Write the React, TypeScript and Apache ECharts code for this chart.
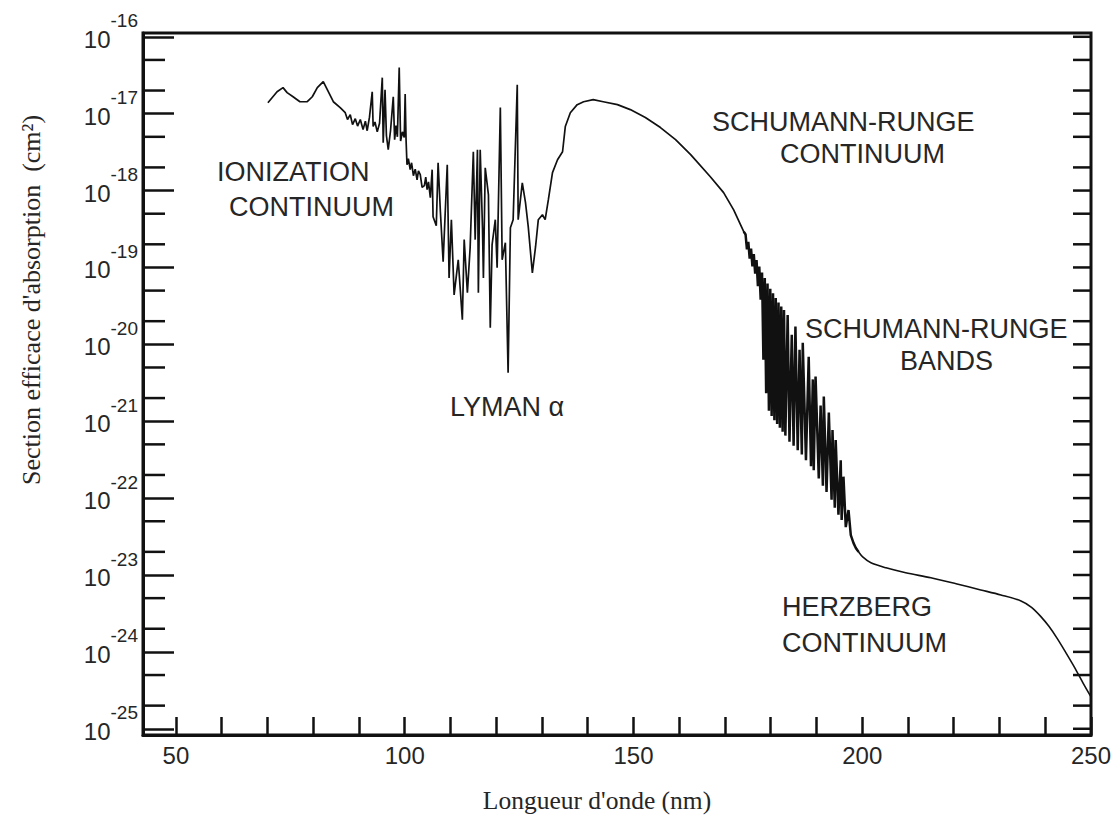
import React, { useEffect, useRef } from "react";
import * as echarts from "echarts";

// Wavelength (nm) / absorption cross-section (cm^2)
const ionizationContinuum: [number, number][] = [
  [70.1, 1.39e-17], [72.1, 1.93e-17], [73.4, 2.18e-17], [74.3, 1.88e-17], [75.6, 1.66e-17],
  [77.1, 1.43e-17], [78.7, 1.43e-17], [79.8, 1.66e-17], [80.9, 2.18e-17], [82.2, 2.61e-17],
  [83.3, 1.93e-17], [84.4, 1.43e-17], [85.9, 1.2e-17], [87.0, 1.03e-17], [87.5, 8.4e-18],
  [88.1, 9.7e-18], [88.6, 7.2e-18], [89.2, 8.6e-18], [89.7, 6.9e-18], [90.3, 8.4e-18],
  [90.9, 6.2e-18], [91.4, 8.0e-18], [91.8, 6.0e-18], [92.3, 9.0e-18], [92.9, 1.93e-17],
  [93.1, 6.8e-18], [93.5, 7.8e-18], [94.0, 5.8e-18], [94.5, 7.5e-18], [95.1, 2.94e-17],
  [95.3, 4.2e-18], [95.7, 2.05e-17], [96.0, 5.2e-18], [96.4, 3.4e-18], [96.9, 6.0e-18],
  [97.5, 1.66e-17], [97.8, 4.6e-18], [98.1, 7.0e-18], [98.4, 5.0e-18], [98.8, 3.97e-17],
  [99.1, 4.4e-18], [99.5, 5.8e-18], [99.9, 4.9e-18], [100.1, 1.8e-17], [100.3, 4.5e-18],
  [100.5, 2.17e-18],
];

const lymanAlphaRegion: [number, number][] = [
  [100.8, 2.6e-18], [101.2, 1.87e-18], [101.5, 2.3e-18], [101.9, 1.56e-18], [102.3, 1.9e-18],
  [102.7, 1.38e-18], [103.0, 1.8e-18], [103.4, 1.61e-18], [103.8, 1.1e-18], [104.3, 1.16e-18],
  [104.6, 1.5e-18], [104.9, 1.03e-18], [105.2, 1.3e-18], [105.6, 8.1e-19], [106.0, 1.87e-18],
  [106.2, 4.57e-19], [106.9, 3.49e-19], [107.3, 2.3e-18], [107.8, 5.3e-19], [108.4, 1.19e-19],
  [109.3, 2.17e-18], [109.7, 7.3e-20], [110.2, 4.18e-19], [110.8, 4.4e-20], [111.7, 1.26e-19],
  [112.6, 2.09e-20], [113.0, 2.3e-19], [113.7, 4.7e-20], [114.3, 1.81e-19], [115.0, 3.2e-18],
  [115.4, 2.3e-19], [115.9, 3.4e-18], [116.1, 4.7e-20], [116.5, 3.4e-18], [117.0, 3.29e-19],
  [117.2, 7.3e-20], [117.6, 1.98e-18], [118.3, 8.8e-19], [118.7, 1.64e-20], [119.1, 1.98e-19],
  [119.8, 4.18e-19], [120.2, 9.9e-20], [120.9, 1.2e-17], [121.3, 1.26e-19], [122.0, 2.1e-19],
  [122.6, 4.27e-21], [123.1, 3.29e-19], [123.7, 4.18e-19], [124.6, 2.38e-17], [124.8, 4.18e-19],
  [125.7, 1.26e-18], [126.4, 6.95e-19], [127.0, 3.39e-19], [127.9, 8.5e-20], [128.6, 1.86e-19],
  [129.2, 4.18e-19], [130.1, 4.85e-19], [130.7, 4.18e-19], [131.4, 7.6e-19], [132.3, 1.71e-18],
  [133.4, 2.52e-18], [134.5, 3.2e-18],
];

const schumannRungeContinuum: [number, number][] = [
  [135.1, 6.8e-18], [136.2, 1.03e-17], [137.7, 1.31e-17], [139.1, 1.43e-17], [141.2, 1.52e-17],
  [143.4, 1.43e-17], [146.5, 1.31e-17], [149.3, 1.13e-17], [152.6, 8.9e-18], [155.9, 6.6e-18],
  [159.2, 4.6e-18], [162.5, 2.93e-18], [166.8, 1.51e-18], [169.7, 9.4e-19], [171.9, 5.6e-19],
  [174.1, 2.92e-19],
];

const schumannRungeBands: [number, number][] = [
  [174.5, 2.69e-19], [174.8, 1.72e-19], [175.1, 2.16e-19], [175.4, 1.3e-19], [175.7, 1.76e-19],
  [176.0, 1.03e-19], [176.3, 1.49e-19], [176.6, 8.3e-20], [176.9, 1.25e-19], [177.2, 5.7e-20],
  [177.5, 1.03e-19], [177.8, 3.8e-20], [178.1, 8.6e-20], [178.4, 6.3e-21], [178.7, 7.3e-20],
  [179.0, 2.32e-21], [179.3, 6.2e-20], [179.6, 1.37e-21], [179.9, 5.3e-20], [180.2, 1.17e-21],
  [180.5, 4.6e-20], [180.8, 1.03e-21], [181.1, 4.0e-20], [181.4, 9.2e-22], [181.7, 3.5e-20],
  [182.0, 8.2e-22], [182.3, 3.1e-20], [182.6, 7.3e-22], [182.9, 2.8e-20], [183.2, 6.5e-22],
  [183.7, 2.4e-20], [184.1, 5.4e-22], [184.6, 1.33e-20], [185.0, 4.8e-22], [185.4, 1.7e-20],
  [185.9, 4.2e-22], [186.3, 8.5e-21], [186.8, 3.7e-22], [187.0, 1.05e-20], [187.7, 3.1e-22],
  [188.3, 6.9e-21], [188.8, 2.6e-22], [189.2, 3.5e-21], [189.4, 2.3e-22], [189.8, 3.8e-21],
  [190.5, 1.8e-22], [190.9, 1.6e-21], [191.4, 1.45e-22], [191.6, 2.1e-21], [192.2, 1.2e-22],
  [192.7, 1.3e-21], [193.3, 9.5e-23], [193.5, 7.7e-22], [194.0, 7.5e-23], [194.2, 5.7e-22],
  [194.8, 6.1e-23], [195.3, 3.1e-22], [195.5, 5.2e-23], [195.9, 1.9e-22], [196.4, 4.2e-23],
  [197.0, 7.0e-23], [197.5, 3.3e-23], [198.1, 2.6e-23], [198.6, 2.25e-23],
];

const herzbergContinuum: [number, number][] = [
  [199.2, 2.0e-23], [200.1, 1.72e-23], [201.9, 1.44e-23], [205.2, 1.24e-23], [209.5, 1.07e-23],
  [215.0, 9.2e-24], [220.5, 7.7e-24], [225.9, 6.4e-24], [230.3, 5.5e-24], [234.7, 4.6e-24],
  [237.0, 3.8e-24], [239.0, 2.9e-24], [240.8, 2.15e-24], [242.6, 1.5e-24], [244.5, 9.8e-25],
  [246.4, 6.3e-25], [248.3, 3.9e-25], [250.0, 2.6e-25],
];

const xTickValues = [50, 60, 70, 80, 90, 100, 110, 120, 130, 140, 150, 160, 170, 180, 190, 200, 210, 220, 230, 240, 250];
const xLabelValues = [50, 100, 150, 200, 250];
const yDecades = [1e-16, 1e-17, 1e-18, 1e-19, 1e-20, 1e-21, 1e-22, 1e-23, 1e-24, 1e-25];
const yMinorTicks = [
  5e-17, 2e-17, 5e-18, 2e-18, 5e-19, 2e-19, 5e-20, 2e-20, 5e-21, 2e-21,
  5e-22, 2e-22, 5e-23, 2e-23, 5e-24, 2e-24, 5e-25, 2e-25,
];

const X_MIN = 42.8;
const X_MAX = 250;
const Y_MIN = 8.3e-26;
const Y_MAX = 1.12e-16;

const annotations = [
  { text: "IONIZATION", x: 217, y: 172 },
  { text: "CONTINUUM", x: 229, y: 207 },
  { text: "LYMAN α", x: 450, y: 407 },
  { text: "SCHUMANN-RUNGE", x: 712, y: 122 },
  { text: "CONTINUUM", x: 780, y: 154 },
  { text: "SCHUMANN-RUNGE", x: 805, y: 329 },
  { text: "BANDS", x: 900, y: 361 },
  { text: "HERZBERG", x: 782, y: 607 },
  { text: "CONTINUUM", x: 782, y: 643 },
];

const INK = "#111";
const TEXT = "#262626";
const SANS = "'Liberation Sans', Arial, sans-serif";
const SERIF = "'Liberation Serif', 'Times New Roman', serif";

export default function App() {
  const ref = useRef<HTMLDivElement>(null);
  useEffect(() => {
    if (!ref.current) return;
    const chart = echarts.init(ref.current, null, { renderer: "svg" });
    const upperPart = [
      ...ionizationContinuum,
      ...lymanAlphaRegion,
      ...schumannRungeContinuum,
      schumannRungeBands[0],
    ];
    const bandPart = [
      schumannRungeContinuum[schumannRungeContinuum.length - 1],
      ...schumannRungeBands,
      herzbergContinuum[0],
    ];
    const herzbergPart = [schumannRungeBands[schumannRungeBands.length - 1], ...herzbergContinuum];

    const tickItem = (len: number, side: "left" | "right") => (params: any, api: any) => {
      const pt = api.coord([api.value(0), api.value(1)]);
      const cs = params.coordSys;
      const x0 = side === "left" ? cs.x : cs.x + cs.width - len;
      return {
        type: "line",
        shape: { x1: x0, y1: pt[1], x2: x0 + len, y2: pt[1] },
        style: { stroke: INK, lineWidth: 2.5 },
      };
    };
    const lineSeries = (data: [number, number][], width: number, smooth: number | boolean) => ({
      type: "line",
      data,
      showSymbol: false,
      symbol: "none",
      smooth,
      lineStyle: { color: INK, width },
      silent: true,
    });
    const option: any = {
      animation: false,
      backgroundColor: "#fff",
      grid: {
        left: 143,
        right: 27,
        top: 33,
        bottom: 85,
        containLabel: false,
        outerBoundsMode: "none",
        show: true,
        borderColor: INK,
        borderWidth: 3,
      },
      xAxis: {
        type: "value",
        min: X_MIN,
        max: X_MAX,
        axisLine: { show: true, lineStyle: { color: INK, width: 3 } },
        axisTick: {
          show: true,
          inside: true,
          length: 18,
          customValues: xTickValues,
          lineStyle: { color: INK, width: 2.5 },
        },
        axisLabel: {
          customValues: xLabelValues,
          fontSize: 24,
          fontFamily: SANS,
          color: TEXT,
          margin: 8,
        },
        splitLine: { show: false },
      },
      yAxis: {
        type: "log",
        logBase: 10,
        min: Y_MIN,
        max: Y_MAX,
        axisLine: { show: true, lineStyle: { color: INK, width: 3 } },
        axisTick: { show: true, inside: true, length: 31, lineStyle: { color: INK, width: 2.5 } },
        axisLabel: {
          margin: 5,
          showMinLabel: false,
          showMaxLabel: false,
          padding: [0, 0, 11, 0],
          formatter: (v: number) => {
            const e = Math.log10(v);
            if (Math.abs(e - Math.round(e)) > 0.01) return " ";
            return `{b|10}{s|${Math.round(e)}}`;
          },
          rich: {
            b: { fontSize: 24, fontFamily: SANS, color: TEXT, lineHeight: 40, verticalAlign: "bottom" },
            s: { fontSize: 19, fontFamily: SANS, color: TEXT, lineHeight: 12, verticalAlign: "top" },
          },
        },
        splitLine: { show: false },
      },
      series: [
        lineSeries(upperPart, 1.7, false),
        lineSeries(bandPart, 2.5, false),
        lineSeries(herzbergPart, 1.6, 0.3),
        {
          type: "custom",
          silent: true,
          clip: false,
          data: yMinorTicks.map((v) => [X_MIN, v]),
          renderItem: tickItem(22, "left"),
        },
        {
          type: "custom",
          silent: true,
          clip: false,
          data: [...yDecades, ...yMinorTicks].map((v) => [X_MIN, v]),
          renderItem: tickItem(18, "right"),
        },
      ],
      graphic: [
        ...annotations.map((a) => ({
          type: "text",
          x: a.x,
          y: a.y,
          silent: true,
          style: {
            text: a.text,
            fontSize: 27,
            fontFamily: SANS,
            fill: TEXT,
            align: "left",
            verticalAlign: "middle",
          },
        })),
        {
          type: "text",
          x: 597,
          y: 800,
          silent: true,
          style: {
            text: "Longueur d'onde (nm)",
            fontSize: 25.5,
            fontFamily: SERIF,
            fill: TEXT,
            align: "center",
            verticalAlign: "middle",
          },
        },
        {
          type: "text",
          x: 31,
          y: 300,
          rotation: Math.PI / 2,
          silent: true,
          style: {
            text: "Section efficace d'absorption  (cm²)",
            fontSize: 26,
            fontFamily: SERIF,
            fill: TEXT,
            align: "center",
            verticalAlign: "middle",
          },
        },
      ],
    };
    chart.setOption(option);
    return () => chart.dispose();
  }, []);
  return (
    <div
      ref={ref}
      style={{ position: "absolute", left: 0, top: 0, width: 1118, height: 820, background: "#fff" }}
    />
  );
}
